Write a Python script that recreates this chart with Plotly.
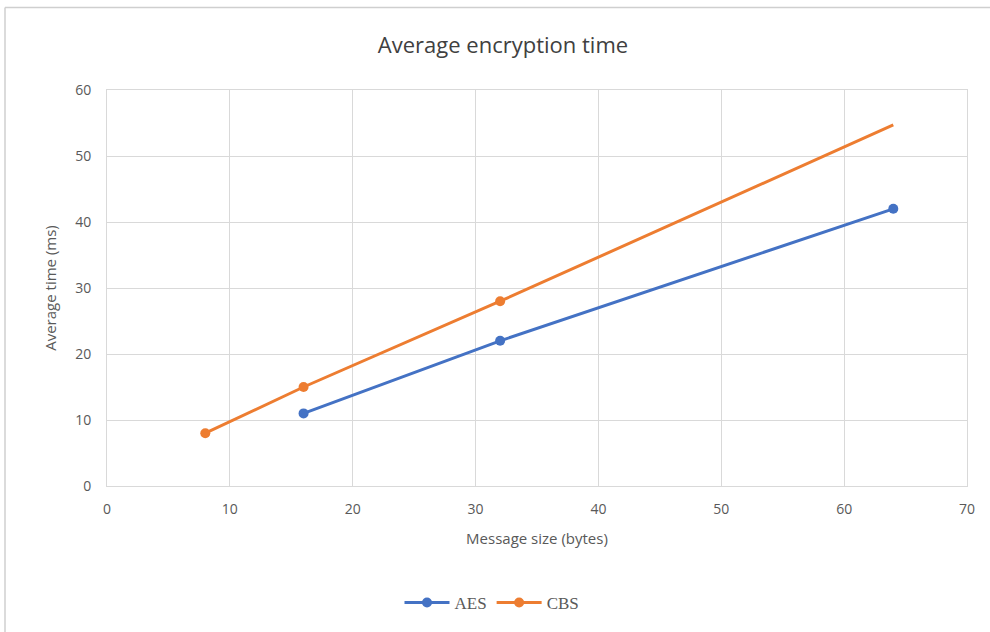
import plotly.graph_objects as go

aes_x = [16, 32, 64]
aes_y = [11, 22, 42]
cbs_x = [8, 16, 32, 64]
cbs_y = [8, 15, 28, 54.7]

BLUE = "#4472C4"
ORANGE = "#ED7D31"
GRID = "#d9d9d9"
TXT = "#595959"

# last CBS point has no visible marker
cbs_marker_colors = [ORANGE, ORANGE, ORANGE, "rgba(0,0,0,0)"]

fig = go.Figure()
fig.add_trace(go.Scatter(x=aes_x, y=aes_y, name="AES", mode="lines+markers",
                         line=dict(color=BLUE, width=3),
                         marker=dict(color=BLUE, size=10)))
fig.add_trace(go.Scatter(x=cbs_x, y=cbs_y, name="CBS", mode="lines+markers",
                         line=dict(color=ORANGE, width=3),
                         marker=dict(color=cbs_marker_colors, size=10)))

W, H = 990, 632
L, R, T, B = 107, 23, 90, 146
pw, ph = W - L - R, H - T - B

fig.update_layout(
    width=W, height=H,
    margin=dict(l=L, r=R, t=T, b=B),
    paper_bgcolor="white", plot_bgcolor="white",
    font=dict(family="Open Sans", color=TXT, size=13),
    title=dict(text="Average encryption time", x=503 / W, xanchor="center",
               y=1 - 45 / H, yanchor="middle", xref="container", yref="container",
               font=dict(size=22, color="#404040", family="Open Sans")),
    xaxis=dict(range=[0, 70], dtick=10, showgrid=True, gridcolor=GRID, gridwidth=1,
               zeroline=False, showline=True, linecolor=GRID, mirror=True,
               ticks="", ticklabelstandoff=10, tickfont=dict(size=14, color=TXT),
               title=dict(text="Message size (bytes)", font=dict(size=15, color=TXT), standoff=16)),
    yaxis=dict(range=[0, 60], dtick=10, showgrid=True, gridcolor=GRID, gridwidth=1,
               zeroline=False, showline=True, linecolor=GRID, mirror=True,
               ticks="", ticklabelstandoff=12, tickfont=dict(size=14, color=TXT),
               title=dict(text="Average time (ms)", font=dict(size=15, color=TXT), standoff=14)),
    legend=dict(orientation="h", x=492 / W, xref="container", xanchor="center",
                y=1 - 603 / H, yref="container", yanchor="middle", itemwidth=45,
                font=dict(family="Liberation Serif", size=17, color=TXT)),
    showlegend=True,
)

# chart outer border (top and left visible)
x0 = (5 - L) / pw
y1 = (H - B - 7.5) / ph
fig.add_shape(type="line", xref="paper", yref="paper", x0=x0, x1=1.1, y0=y1, y1=y1,
              line=dict(color="#cfcfcf", width=1.5))
fig.add_shape(type="line", xref="paper", yref="paper", x0=x0, x1=x0, y0=-0.5, y1=y1,
              line=dict(color="#cfcfcf", width=1.5))

fig.write_html("out.html", config={"displayModeBar": False},
               post_script="document.body.style.margin='0';document.body.style.overflow='hidden';")
